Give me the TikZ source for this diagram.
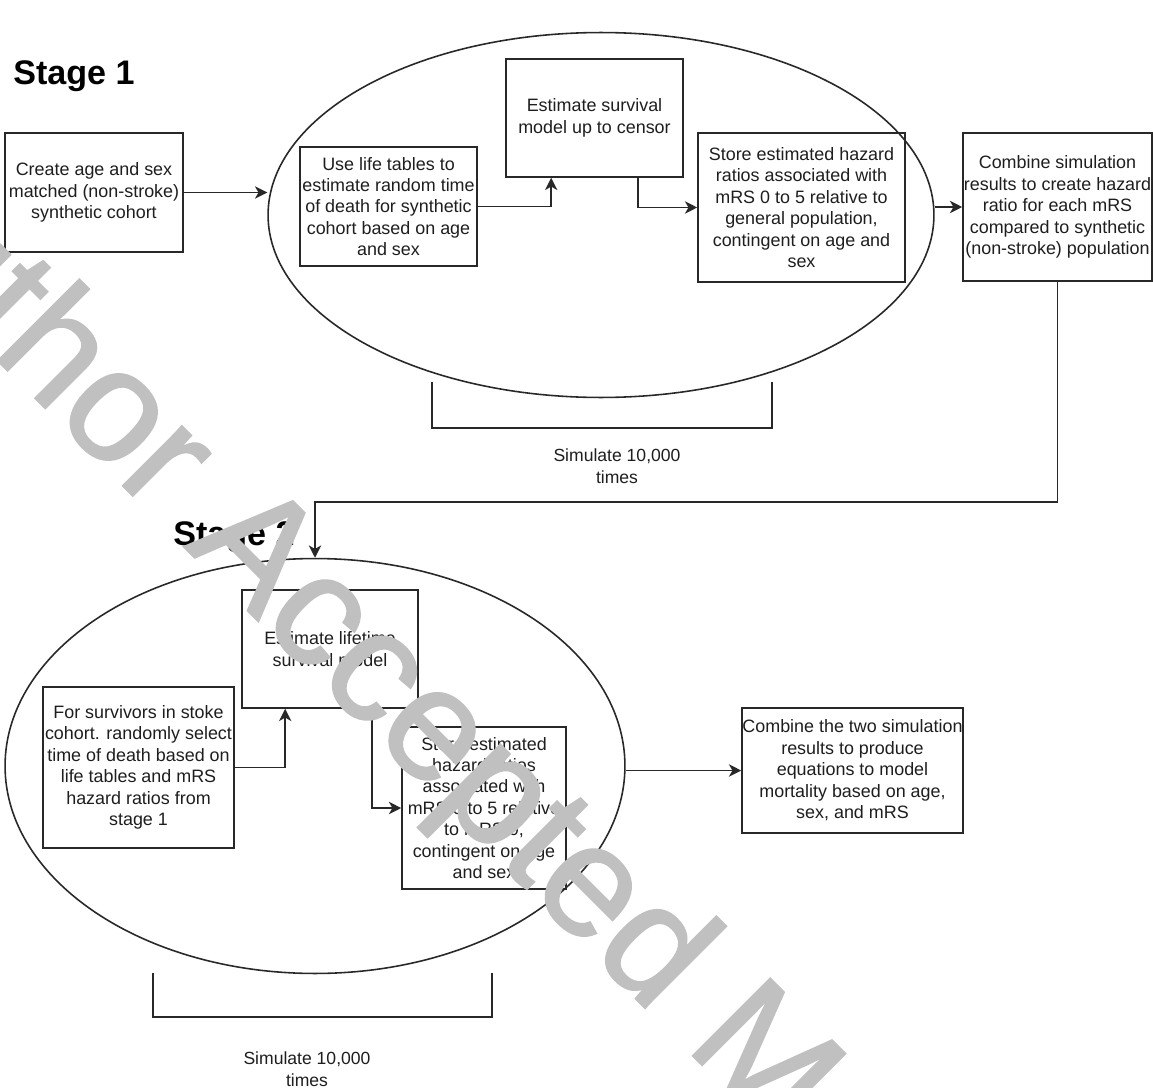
\documentclass[tikz,border=0pt]{standalone}
\usepackage{fontspec}
\setmainfont{Liberation Sans}
\newfontfamily\wmfont[FakeBold=1.2]{Liberation Sans}
\usetikzlibrary{arrows.meta,shapes.geometric,calc}
\definecolor{lineclr}{RGB}{40,40,40}
\definecolor{txtclr}{RGB}{30,30,30}
\definecolor{wmclr}{RGB}{192,192,192}
\tikzset{
  box/.style={draw=lineclr, line width=0.9pt, align=center, inner sep=0pt,
    text=txtclr, font=\fontsize{10.2pt}{12.2pt}\selectfont},
  oval/.style={draw=lineclr, line width=0.9pt, ellipse, inner sep=0pt},
  conn/.style={draw=lineclr, line width=0.9pt, -{Stealth[length=7pt,width=7pt,inset=2pt]}},
  plain/.style={draw=lineclr, line width=0.9pt},
  lbl/.style={align=center, text=txtclr, inner sep=0pt, font=\fontsize{10pt}{12.2pt}\selectfont},
  stage/.style={anchor=base west, inner sep=0pt, text=black, font=\fontsize{19.4pt}{22pt}\selectfont\bfseries}
}
\begin{document}
\begin{tikzpicture}[x=0.02cm, y=-0.02cm]
\useasboundingbox (0,0) rectangle (1153,1088);
\fill[white] (0,0) rectangle (1153,1088);

% Stage 1
\node[stage] (s1) at (13,85) {Stage 1};
\node[oval, minimum width=13.32cm, minimum height=7.3cm] (E1) at (601,215) {};
\node[box, minimum width=3.56cm, minimum height=2.38cm] (A) at (94,192.5) {Create age and sex\\matched (non-stroke)\\synthetic cohort};
\node[box, minimum width=3.54cm, minimum height=2.38cm] (B) at (388.5,206.5) {Use life tables to\\estimate random time\\of death for synthetic\\cohort based on age\\and sex};
\node[box, minimum width=3.54cm, minimum height=2.36cm] (C) at (594.5,118) {Estimate survival\\model up to censor};
\node[box, minimum width=4.14cm, minimum height=2.98cm] (D) at (801.5,207.5) {Store estimated hazard\\ratios associated with\\mRS 0 to 5 relative to\\general population,\\contingent on age and\\sex};
\node[box, minimum width=3.78cm, minimum height=2.96cm] (E) at (1057.5,207) {Combine simulation\\results to create hazard\\ratio for each mRS\\compared to synthetic\\(non-stroke) population};

\draw[conn] (A.east) -- (A.east -| E1.west);
\draw[conn] (B.east) -| ([xshift=0.92cm]C.south west);
\draw[conn] ([xshift=2.66cm]C.south west) |- (D.west);
\draw[conn] (E.west -| E1.east) -- (E.west);

\draw[plain] (432,382) -- (432,428) -- (772,428) -- (772,382);
\node[lbl] (sim1) at (617,466) {Simulate 10,000\\times};

% Stage 2
\node[stage] (s2) at (173,545) {Stage 2};
\node[oval, minimum width=12.4cm, minimum height=8.3cm] (E2) at (315,766) {};
\draw[conn] (E.south) -- ++(0,220) -| (E2.north);

\node[box, minimum width=3.82cm, minimum height=3.22cm] (F) at (138.5,767.5) {For survivors in stoke\\cohort. randomly select\\time of death based on\\life tables and mRS\\hazard ratios from\\stage 1};
\node[box, minimum width=3.52cm, minimum height=2.36cm] (G) at (330,649) {Estimate lifetime\\survival model};
\node[box, minimum width=3.28cm, minimum height=3.24cm] (H) at (484,808) {Store estimated\\hazard ratios\\associated with\\mRS 0 to 5 relative\\to mRS 0,\\contingent on age\\and sex};
\node[box, minimum width=4.42cm, minimum height=2.5cm] (I) at (852.5,770.5) {Combine the two simulation\\results to produce\\equations to model\\mortality based on age,\\sex, and mRS};

\draw[conn] (F.east) -| ([xshift=0.88cm]G.south west);
\draw[conn] ([xshift=2.62cm]G.south west) |- (H.west);
\draw[conn] (I.west -| E2.east) -- (I.west);

\draw[plain] (153,973) -- (153,1017) -- (492,1017) -- (492,973);
\node[lbl] (sim2) at (307,1069) {Simulate 10,000\\times};

% watermark
\begin{scope}
\clip (0,0) rectangle (1153,1088);
\node[anchor=base west, inner sep=0pt, rotate=-45, text=wmclr, font=\fontsize{90.5pt}{100pt}\wmfont] (wm) at (-179,184) {Author Accepted Manuscript};
\end{scope}
\end{tikzpicture}
\end{document}
